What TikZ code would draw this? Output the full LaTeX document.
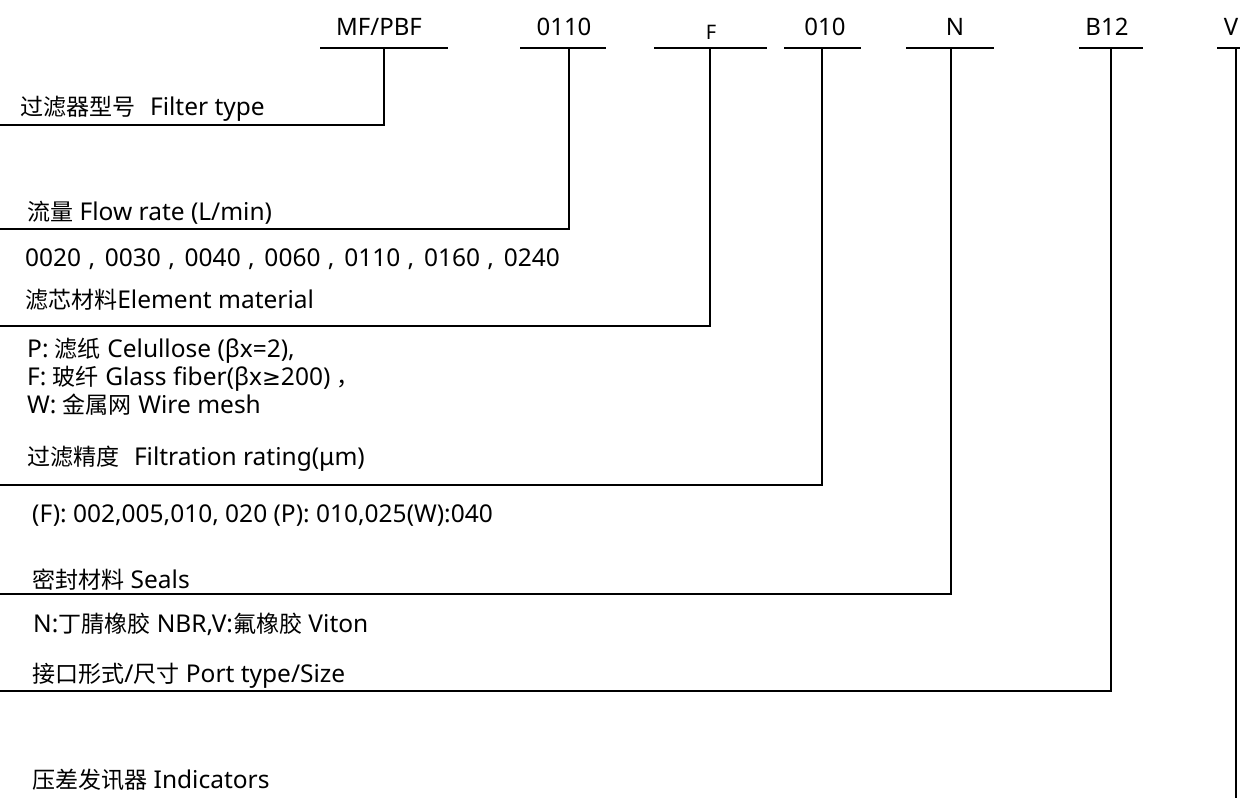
\documentclass[tikz,border=0pt]{standalone}
\usepackage{fontspec}
\setmainfont{Noto Sans}
\newfontfamily\cjk[Scale=0.94]{Noto Sans CJK SC}
\newfontfamily\symfont[Scale=0.92]{DejaVu Sans}
\newcommand{\fwcomma}{\hspace{0.3em},\hspace{0.4em}}
\begin{document}
\begin{tikzpicture}[x=1pt,y=-1pt,
  conn/.style={line width=2.4pt, line join=miter},
  codebox/.style={font=\fontsize{24}{28}\selectfont, anchor=base, inner sep=0pt},
  smallcode/.style={font=\fontsize{20}{24}\selectfont, anchor=base, inner sep=0pt},
  lbl/.style={font=\fontsize{24.5}{28}\selectfont, anchor=base west, inner sep=0pt},
]
\useasboundingbox (0,0) rectangle (1240,798);

% ---- header codes ----
\node[codebox] (c1) at (379,35) {MF/PBF};
\node[codebox] (c2) at (564,35) {0110};
\node[smallcode] (c3) at (711,39) {F};
\node[codebox] (c4) at (825,35) {010};
\node[codebox] (c5) at (955,35) {N};
\node[codebox] (c6) at (1107,35) {B12};
\node[codebox] (c7) at (1231,35) {V};

% bars under codes
\coordinate (b1l) at (320,48);  \coordinate (b1r) at (448,48);
\coordinate (b2l) at (520,48);  \coordinate (b2r) at (606,48);
\coordinate (b3l) at (654,48);  \coordinate (b3r) at (767,48);
\coordinate (b4l) at (784,48);  \coordinate (b4r) at (861,48);
\coordinate (b5l) at (906,48);  \coordinate (b5r) at (994,48);
\coordinate (b6l) at (1079,48); \coordinate (b6r) at (1143,48);
\coordinate (b7l) at (1217,48); \coordinate (b7r) at (1250,48);
\foreach \i in {1,...,7} {\draw[conn] (b\i l) -- (b\i r);}

% drop points
\coordinate (t1) at (384,48);
\coordinate (t2) at (569,48);
\coordinate (t3) at (710,48);
\coordinate (t4) at (822,48);
\coordinate (t5) at (951,48);
\coordinate (t6) at (1111,48);
\coordinate (t7) at (1236,48);

% line ends at left edge
\coordinate (e1) at (-2,125);
\coordinate (e2) at (-2,229);
\coordinate (e3) at (-2,326);
\coordinate (e4) at (-2,485);
\coordinate (e5) at (-2,594);
\coordinate (e6) at (-2,691);
\coordinate (e7) at (1236,810);

\foreach \i in {1,...,6} {\draw[conn] (t\i) |- (e\i);}
\draw[conn] (t7) -- (e7);

% ---- labels ----
\node[lbl] (l1) at (20,115) {{\cjk 过滤器型号}\hspace{0.6em}Filter type};
\node[lbl] (l2) at (27,220) {{\cjk 流量} Flow rate (L/min)};
\node[lbl] (v2) at (25,266) {0020\fwcomma 0030\fwcomma 0040\fwcomma 0060\fwcomma 0110\fwcomma 0160\fwcomma 0240};
\node[lbl] (l3) at (25,308) {{\cjk 滤芯材料}Element material};
\node[lbl] (v3a) at (27,357) {P: {\cjk 滤纸} Celullose (βx=2),};
\node[lbl] (v3b) at (27,385) {F: {\cjk 玻纤} Glass fiber(βx{\symfont ≥}200) {\cjk ，}};
\node[lbl] (v3c) at (27,413) {W: {\cjk 金属网} Wire mesh};
\node[lbl] (l4) at (27,465) {{\cjk 过滤精度}\hspace{0.6em}Filtration rating(μm)};
\node[lbl] (v4) at (32,522) {(F): 002,005,010, 020 (P): 010,025(W):040};
\node[lbl] (l5) at (32,588) {{\cjk 密封材料} Seals};
\node[lbl] (v5) at (33,632) {N:{\cjk 丁腈橡胶} NBR,V:{\cjk 氟橡胶} Viton};
\node[lbl] (l6) at (32,682) {{\cjk 接口形式}/{\cjk 尺寸} Port type/Size};
\node[lbl] (l7) at (32,788) {{\cjk 压差发讯器} Indicators};
\end{tikzpicture}
\end{document}
